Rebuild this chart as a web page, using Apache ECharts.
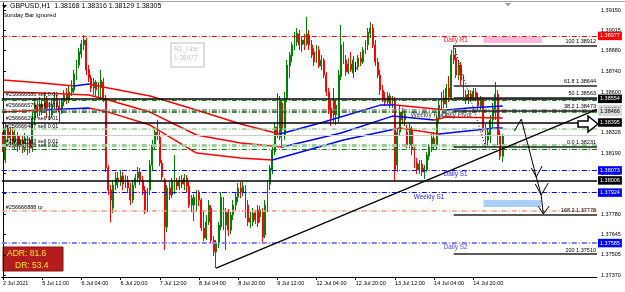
<!DOCTYPE html>
<html>
<head>
<meta charset="utf-8">
<style>
  html, body { margin: 0; padding: 0; background: #fff; }
  #chart { width: 625px; height: 292px; }
</style>
<script src="https://cdn.jsdelivr.net/npm/echarts@6/dist/echarts.min.js"></script>
</head>
<body>
<div id="chart"></div>
<script>
// GBPUSD H1, 2 Jul 20:00 -> 15 Jul 08:00 (205 bars)
const opens = [
  1.38291, 1.38143, 1.38358, 1.38291, 1.38331, 1.38264, 1.38311, 1.38244, 1.38277, 1.38223,
  1.38210, 1.38277, 1.38223, 1.38425, 1.38512, 1.38465, 1.38519, 1.38479, 1.38546, 1.38492,
  1.38445, 1.38512, 1.38559, 1.38506, 1.38465, 1.38533, 1.38580, 1.38546, 1.38600, 1.38613,
  1.38707, 1.38781, 1.38855, 1.38916, 1.38949, 1.38748, 1.38694, 1.38627, 1.38667, 1.38613,
  1.38627, 1.38667, 1.38559, 1.38089, 1.37941, 1.37820, 1.37975, 1.38022, 1.37995, 1.38035,
  1.37981, 1.38008, 1.37955, 1.37874, 1.37975, 1.38022, 1.38062, 1.38008, 1.37941, 1.37807,
  1.37941, 1.38109, 1.38244, 1.38331, 1.38297, 1.38123, 1.38008, 1.37693, 1.37955, 1.37908,
  1.37941, 1.37995, 1.37968, 1.38008, 1.37981, 1.38022, 1.37968, 1.37840, 1.37840, 1.37807,
  1.37921, 1.37874, 1.37686, 1.37619, 1.37726, 1.37820, 1.37605, 1.37525, 1.37578, 1.37693,
  1.37874, 1.37706, 1.37793, 1.37672, 1.37773, 1.37840, 1.37894, 1.37955, 1.37928, 1.37955,
  1.37840, 1.37726, 1.37726, 1.37787, 1.37807, 1.37760, 1.37793, 1.37639, 1.37807, 1.37981,
  1.38076, 1.38197, 1.38365, 1.38297, 1.38526, 1.38311, 1.38559, 1.38774, 1.38842, 1.38909,
  1.38936, 1.38990, 1.38916, 1.38949, 1.38922, 1.38983, 1.38916, 1.38869, 1.38815, 1.38882,
  1.38774, 1.38815, 1.38714, 1.38600, 1.38492, 1.38546, 1.38445, 1.38425, 1.38707, 1.38916,
  1.38815, 1.38734, 1.38788, 1.38727, 1.38761, 1.38768, 1.38828, 1.38801, 1.38882, 1.38916,
  1.38996, 1.39030, 1.38916, 1.38801, 1.38714, 1.38613, 1.38559, 1.38533, 1.38573, 1.38519,
  1.38546, 1.38109, 1.38331, 1.38465, 1.38412, 1.38331, 1.38244, 1.38344, 1.38210, 1.38123,
  1.38076, 1.38116, 1.38062, 1.38076, 1.38170, 1.38223, 1.38291, 1.38244, 1.38425, 1.38512,
  1.38559, 1.38519, 1.38627, 1.38559, 1.38848, 1.38828, 1.38714, 1.38781, 1.38680, 1.38580,
  1.38546, 1.38586, 1.38553, 1.38600, 1.38559, 1.38506, 1.38546, 1.38358, 1.38277, 1.38311,
  1.38412, 1.38479, 1.38586, 1.38311, 1.38168
];
const closes = [
  1.38223, 1.38358, 1.38291, 1.38331, 1.38264, 1.38311, 1.38244, 1.38277, 1.38223, 1.38291,
  1.38277, 1.38223, 1.38425, 1.38512, 1.38465, 1.38519, 1.38479, 1.38546, 1.38492, 1.38445,
  1.38512, 1.38559, 1.38506, 1.38465, 1.38533, 1.38580, 1.38546, 1.38600, 1.38627, 1.38721,
  1.38788, 1.38869, 1.38922, 1.38949, 1.38748, 1.38694, 1.38627, 1.38667, 1.38613, 1.38647,
  1.38680, 1.38559, 1.38089, 1.37941, 1.37874, 1.37975, 1.38022, 1.37995, 1.38035, 1.37981,
  1.38008, 1.37955, 1.37874, 1.37975, 1.38022, 1.38062, 1.38008, 1.37941, 1.37807, 1.37941,
  1.38109, 1.38244, 1.38331, 1.38311, 1.38123, 1.38029, 1.37693, 1.37955, 1.37908, 1.37995,
  1.37995, 1.37968, 1.38008, 1.37981, 1.38022, 1.37968, 1.37840, 1.37887, 1.37894, 1.37921,
  1.37874, 1.37686, 1.37619, 1.37726, 1.37840, 1.37605, 1.37525, 1.37578, 1.37706, 1.37894,
  1.37706, 1.37793, 1.37672, 1.37773, 1.37840, 1.37894, 1.37955, 1.37928, 1.37968, 1.37773,
  1.37726, 1.37753, 1.37787, 1.37740, 1.37719, 1.37807, 1.37625, 1.37840, 1.37988, 1.38089,
  1.38210, 1.38365, 1.38311, 1.38546, 1.38344, 1.38559, 1.38781, 1.38848, 1.38916, 1.38983,
  1.38996, 1.38916, 1.38949, 1.38922, 1.38990, 1.38916, 1.38848, 1.38801, 1.38882, 1.38774,
  1.38815, 1.38714, 1.38600, 1.38479, 1.38425, 1.38445, 1.38512, 1.38714, 1.38916, 1.38801,
  1.38734, 1.38788, 1.38748, 1.38815, 1.38761, 1.38828, 1.38801, 1.38882, 1.38916, 1.39003,
  1.39030, 1.38916, 1.38801, 1.38714, 1.38613, 1.38559, 1.38533, 1.38573, 1.38519, 1.38546,
  1.38076, 1.38331, 1.38465, 1.38412, 1.38452, 1.38244, 1.38358, 1.38210, 1.38109, 1.38076,
  1.38116, 1.38062, 1.38089, 1.38176, 1.38230, 1.38291, 1.38244, 1.38425, 1.38512, 1.38559,
  1.38519, 1.38627, 1.38566, 1.38848, 1.38815, 1.38714, 1.38781, 1.38680, 1.38580, 1.38546,
  1.38586, 1.38553, 1.38606, 1.38559, 1.38506, 1.38546, 1.38358, 1.38244, 1.38331, 1.38412,
  1.38492, 1.38586, 1.38311, 1.38168, 1.38305
];
const lows = [
  1.38197, 1.38123, 1.38264, 1.38244, 1.38223, 1.38210, 1.38197, 1.38210, 1.38190, 1.38197,
  1.38176, 1.38190, 1.38197, 1.38378, 1.38425, 1.38438, 1.38445, 1.38459, 1.38425, 1.38412,
  1.38425, 1.38479, 1.38465, 1.38398, 1.38452, 1.38506, 1.38519, 1.38526, 1.38573, 1.38593,
  1.38680, 1.38761, 1.38828, 1.38882, 1.38714, 1.38667, 1.38600, 1.38580, 1.38573, 1.38559,
  1.38546, 1.38533, 1.38062, 1.37908, 1.37726, 1.37787, 1.37941, 1.37955, 1.37968, 1.37941,
  1.37955, 1.37921, 1.37840, 1.37854, 1.37955, 1.37995, 1.37975, 1.37908, 1.37780, 1.37793,
  1.37908, 1.38076, 1.38210, 1.38277, 1.38102, 1.38008, 1.37538, 1.37659, 1.37874, 1.37887,
  1.37914, 1.37941, 1.37941, 1.37955, 1.37941, 1.37928, 1.37820, 1.37793, 1.37733, 1.37793,
  1.37834, 1.37666, 1.37598, 1.37605, 1.37706, 1.37585, 1.37498, 1.37417, 1.37551, 1.37672,
  1.37672, 1.37538, 1.37632, 1.37646, 1.37740, 1.37807, 1.37861, 1.37887, 1.37901, 1.37753,
  1.37699, 1.37686, 1.37699, 1.37713, 1.37693, 1.37726, 1.37585, 1.37619, 1.37793, 1.37941,
  1.38049, 1.38176, 1.38291, 1.38277, 1.38230, 1.38277, 1.38533, 1.38694, 1.38801, 1.38882,
  1.38909, 1.38882, 1.38869, 1.38882, 1.38909, 1.38882, 1.38828, 1.38774, 1.38795, 1.38761,
  1.38748, 1.38694, 1.38573, 1.38452, 1.38371, 1.38398, 1.38378, 1.38398, 1.38680, 1.38788,
  1.38707, 1.38721, 1.38734, 1.38694, 1.38734, 1.38748, 1.38774, 1.38788, 1.38855, 1.38882,
  1.38963, 1.38895, 1.38774, 1.38694, 1.38580, 1.38533, 1.38506, 1.38519, 1.38492, 1.38492,
  1.38008, 1.38062, 1.38304, 1.38385, 1.38371, 1.38223, 1.38223, 1.38176, 1.38089, 1.38049,
  1.38049, 1.38035, 1.38015, 1.38062, 1.38143, 1.38197, 1.38210, 1.38210, 1.38398, 1.38479,
  1.38492, 1.38492, 1.38533, 1.38546, 1.38788, 1.38694, 1.38680, 1.38647, 1.38559, 1.38519,
  1.38519, 1.38533, 1.38539, 1.38539, 1.38479, 1.38479, 1.38331, 1.38231, 1.38240, 1.38257,
  1.38358, 1.38412, 1.38244, 1.38143, 1.38129
];
const highs = [
  1.38331, 1.38398, 1.38378, 1.38358, 1.38365, 1.38344, 1.38331, 1.38304, 1.38311, 1.38324,
  1.38311, 1.38297, 1.38465, 1.38559, 1.38546, 1.38566, 1.38546, 1.38586, 1.38573, 1.38533,
  1.38546, 1.38600, 1.38580, 1.38546, 1.38559, 1.38613, 1.38627, 1.38647, 1.38680, 1.38748,
  1.38815, 1.38895, 1.38949, 1.38983, 1.38963, 1.38781, 1.38714, 1.38694, 1.38680, 1.38667,
  1.38748, 1.38694, 1.38580, 1.38109, 1.37975, 1.38008, 1.38062, 1.38062, 1.38076, 1.38062,
  1.38042, 1.38035, 1.37988, 1.38008, 1.38049, 1.38096, 1.38089, 1.38035, 1.37968, 1.37955,
  1.38143, 1.38277, 1.38358, 1.38412, 1.38331, 1.38143, 1.38022, 1.37975, 1.37995, 1.38022,
  1.38176, 1.38022, 1.38035, 1.38042, 1.38049, 1.38042, 1.37995, 1.37908, 1.37914, 1.37941,
  1.37941, 1.37887, 1.37807, 1.37773, 1.37874, 1.37840, 1.37632, 1.37605, 1.37726, 1.37928,
  1.37894, 1.37820, 1.37814, 1.37793, 1.37874, 1.37921, 1.37988, 1.37995, 1.37995, 1.37975,
  1.37874, 1.37793, 1.37820, 1.37807, 1.37840, 1.37834, 1.37820, 1.37874, 1.38008, 1.38109,
  1.38237, 1.38398, 1.38593, 1.38573, 1.38546, 1.38600, 1.38815, 1.38869, 1.38936, 1.39003,
  1.39030, 1.39016, 1.38976, 1.38990, 1.39104, 1.39016, 1.38949, 1.38895, 1.38916, 1.38909,
  1.38848, 1.38828, 1.38734, 1.38627, 1.38546, 1.38627, 1.38546, 1.38748, 1.39050, 1.38936,
  1.38848, 1.38828, 1.38869, 1.38842, 1.38801, 1.38848, 1.38869, 1.38902, 1.38949, 1.39030,
  1.39070, 1.39057, 1.38949, 1.38828, 1.38748, 1.38647, 1.38600, 1.38600, 1.38593, 1.38573,
  1.38566, 1.38358, 1.38506, 1.38492, 1.38479, 1.38378, 1.38385, 1.38371, 1.38237, 1.38156,
  1.38143, 1.38143, 1.38109, 1.38197, 1.38250, 1.38318, 1.38331, 1.38445, 1.38546, 1.38600,
  1.38613, 1.38654, 1.38707, 1.38882, 1.38912, 1.38895, 1.38815, 1.38801, 1.38714, 1.38613,
  1.38613, 1.38613, 1.38627, 1.38627, 1.38593, 1.38573, 1.38566, 1.38385, 1.38358, 1.38445,
  1.38526, 1.38667, 1.38613, 1.38344, 1.38316
];
const futureBars = 38;

// price scale labels on the right
const yTicks = [1.37370, 1.37505, 1.37645, 1.37780, 1.37920, 1.38055, 1.38190,
  1.38326, 1.38465, 1.38600, 1.38740, 1.38880, 1.39015, 1.39150];

// three moving averages, read at a few bars: [bar, price]
const maSlow = [[0, 1.38680], [16, 1.38660], [29, 1.38640], [35, 1.38654], [43, 1.38627],
  [60, 1.38573], [79, 1.38479], [97, 1.38385], [113, 1.38318], [131, 1.38398],
  [154, 1.38512], [160, 1.38512], [181, 1.38479], [190, 1.38492], [204, 1.38506]];
const maMid = [[0, 1.38600], [16, 1.38593], [35, 1.38580], [43, 1.38546], [60, 1.38465],
  [79, 1.38311], [97, 1.38257], [114, 1.38230], [138, 1.38324], [159, 1.38438],
  [176, 1.38412], [181, 1.38432], [204, 1.38425]];
const maFast = [[0, 1.38465], [16, 1.38479], [35, 1.38492], [43, 1.38465], [60, 1.38378],
  [79, 1.38190], [97, 1.38156], [110, 1.38143], [139, 1.38277], [162, 1.38358],
  [178, 1.38318], [201, 1.38358], [204, 1.38358]];
// bar ranges where each average is drawn blue (rising)
const slowRising = [[29, 35], [113, 160], [181, 204]];
const midRising = [[114, 176]];
const fastRising = [[16, 35], [110, 160], [178, 204]];

// horizontal levels
const pivotNames = ['Daily R1', 'Daily S1', 'Weekly S1', 'Daily S2'];
const pivotPrices = [1.38977, 1.38073, 1.37924, 1.37585];
const blackLevels = [1.38554, 1.38395, 1.38006];
const greenLevels = [1.38546, 1.38466, 1.38217];
const paleGreenLevels = [1.38351, 1.38244];
const greyLevel = 1.38484;
const silverLevel = 1.38311;
const tpLevel = 1.37800;
const orderTags = ['#256666686 sell 0.01', '#256666579 sell 0.01', '#256666290 sell 0.01',
  '#256666487 sell 0.01', '#256667303 sell 0.01', '#256667305 sell 0.01', '#256666888 tp'];
const orderTagPrices = [1.38554, 1.38484, 1.38395, 1.38395, 1.38244, 1.38217, 1.37800];

// fibonacci from the 14 Jul high to the low
const fibRatios = ['100', '61.8', '50', '38.2', '0.0', '168.2', '200'];
const fibPrices = [1.38912, 1.38644, 1.38563, 1.38473, 1.38231, 1.37778, 1.37510];
const fibHigh = [184, 1.38912];
const fibLow = [197, 1.38231];

// trend line and hand drawn arrows: [bar, price]
const trendLine = [[87, 1.37417], [242.5, 1.38483]];
const arrowStrokes = [
  [[208.8, 1.38338], [211.6, 1.38418], [217.7, 1.38029], [219.7, 1.37908], [220.6, 1.37780]],
  [[215.7, 1.38089], [217.7, 1.38029], [220.1, 1.38102]],
  [[217.3, 1.37982], [219.7, 1.37908], [222.6, 1.37988]],
  [[218.5, 1.37834], [220.6, 1.37780], [223.0, 1.37834]]
];
const pinkZone = [[196.2, 1.38969], [220.1, 1.38929]];
const blueZone = [[196.2, 1.37874], [219.7, 1.37827]];
const levelTexts = ['Daily R1', 'Daily S1', 'Weekly S1', 'Daily S2', 'Weekly Pivot', 'Daily Pivot'];
const levelTextAt = [[179.9, 1.38949], [179.9, 1.38049], [167.7, 1.37894], [179.9, 1.37558],
  [166.5, 1.38445], [179.1, 1.38445]];

// ---------------------------------------------------------------
const FONT = '"Liberation Sans", Arial, sans-serif';
const DASHDOT = [5, 2, 1, 2];
const CLEAR = 'rgba(0,0,0,0)';

const categories = [];
for (let t = Date.UTC(2021, 6, 2, 20); categories.length < opens.length; t += 3600e3) {
  const d = new Date(t);
  const wd = d.getUTCDay();
  if (wd === 0 || wd === 6) continue;
  categories.push(d.getUTCDate() + ' Jul ' + String(d.getUTCHours()).padStart(2, '0') + ':00');
}
for (let i = 0; i < futureBars; i++) categories.push('');

const candles = opens.map((o, i) => [o, closes[i], lows[i], highs[i]]);
const showDate = (i, v) => i % 16 === 0 && v !== '';

function axisTag(p, bg, fg) {
  return {
    show: true, position: 'end', distance: 1, formatter: p.toFixed(5),
    backgroundColor: bg, color: fg, fontSize: 5.5, fontFamily: FONT, padding: [1.5, 2, 1, 2]
  };
}
function hLine(p, color, width, type, label) {
  return { yAxis: p, lineStyle: { color: color, width: width, type: type }, label: label || { show: false } };
}

const levels = [];
levels.push(hLine(pivotPrices[0], '#ff0000', 1, DASHDOT, axisTag(pivotPrices[0], '#ff0000', '#fff')));
levels.push(hLine(pivotPrices[1], '#0000ff', 1, DASHDOT, axisTag(pivotPrices[1], '#0000ff', '#fff')));
levels.push(hLine(pivotPrices[2], '#0000ff', 1, DASHDOT, axisTag(pivotPrices[2], '#0000ff', '#fff')));
levels.push(hLine(pivotPrices[3], '#8080ff', 2, DASHDOT, axisTag(pivotPrices[3], '#0000ff', '#fff')));
greenLevels.forEach((p, i) => levels.push(hLine(p, i === 1 ? '#006400' : '#008000', i === 1 ? 1.5 : 1, DASHDOT)));
paleGreenLevels.forEach((p, i) => levels.push(hLine(p, '#9acd9a', i === 1 ? 3 : 1.5, DASHDOT)));
levels.push(hLine(greyLevel, '#808080', 1.5, DASHDOT, axisTag(greyLevel, '#d8d8d8', '#000')));
levels.push(hLine(silverLevel, '#cccccc', 1, 'solid'));
levels.push(hLine(tpLevel, '#f4a080', 1.5, DASHDOT));
levels.push(hLine(greenLevels[1], CLEAR, 1, 'solid', axisTag(greenLevels[1], '#d8d8d8', '#000')));
blackLevels.forEach(p => levels.push(hLine(p, '#000', 1.5, 'solid', axisTag(p, '#000', '#fff'))));
orderTags.forEach((txt, i) => levels.push(hLine(orderTagPrices[i], CLEAR, 1, 'solid', {
  show: true, position: i === 3 ? 'insideStartBottom' : 'insideStartTop', distance: [4, 1],
  formatter: txt, color: '#000', fontSize: 5.5, fontFamily: FONT
})));

const drawings = [];
fibPrices.forEach((p, i) => drawings.push([
  {
    coord: [fibHigh[0], p], lineStyle: { color: '#222', width: 1.5, type: 'solid' },
    label: {
      show: true, position: 'insideEndTop', distance: [1, 1], formatter: fibRatios[i] + ' ' + p.toFixed(5),
      color: '#000', fontSize: 5.5, fontFamily: FONT
    }
  },
  { coord: [242.5, p] }
]));
drawings.push([{ coord: fibHigh, lineStyle: { color: '#000', width: 1, type: [1, 2] } }, { coord: fibLow }]);
drawings.push([{ coord: trendLine[0], lineStyle: { color: '#000', width: 1.3, type: 'solid' } }, { coord: trendLine[1] }]);
arrowStrokes.forEach(stroke => {
  for (let k = 0; k < stroke.length - 1; k++) {
    drawings.push([{ coord: stroke[k], lineStyle: { color: '#000', width: 1, type: 'solid' } }, { coord: stroke[k + 1] }]);
  }
});

const textColors = ['#ff2020', '#2a2aff', '#2a2aff', '#4a4aff', '#404040', '#404040'];

function maColors(seriesIndex, ranges) {
  return {
    type: 'piecewise', show: false, seriesIndex: seriesIndex, dimension: 0,
    pieces: ranges.map(r => ({ gte: r[0], lte: r[1], color: '#0000ff' })),
    outOfRange: { color: '#ff0000' }
  };
}
function maSeries(name, data) {
  return {
    name: name, type: 'line', xAxisIndex: 1, data: data, symbol: 'none', silent: true,
    lineStyle: { width: 1.5 }, z: 4
  };
}

const chart = echarts.init(document.getElementById('chart'));
chart.setOption({
  animation: false,
  backgroundColor: '#fff',
  grid: { left: -1, right: 28, top: 3, bottom: 15 },
  xAxis: [
    {
      type: 'category', data: categories, boundaryGap: true,
      axisLine: { show: true, onZero: false, lineStyle: { color: '#000', width: 1 } },
      axisTick: { show: true, alignWithLabel: true, interval: showDate, length: 3, lineStyle: { color: '#000' } },
      axisLabel: {
        interval: showDate, align: 'left', margin: 3, fontSize: 5.5, color: '#000', fontFamily: FONT,
        formatter: (v, i) => i === 0 ? v.split(' ').slice(0, 2).join(' ') + ' 2021' : v
      },
      splitLine: { show: false }
    },
    { type: 'value', min: -0.5, max: 242.5, show: false }
  ],
  yAxis: {
    type: 'value', position: 'right', min: 1.37357, max: 1.39198,
    axisLine: { show: true, lineStyle: { color: '#000' } },
    axisTick: { show: true, customValues: yTicks, length: 3, lineStyle: { color: '#000' } },
    axisLabel: { customValues: yTicks, formatter: v => v.toFixed(5), fontSize: 5.5, margin: 4, color: '#000', fontFamily: FONT },
    splitLine: { show: false }
  },
  visualMap: [maColors(1, slowRising), maColors(2, midRising), maColors(3, fastRising)],
  series: [
    {
      name: 'GBPUSD', type: 'candlestick', data: candles, barWidth: 1.4,
      itemStyle: {
        color: '#008000', color0: '#ff0000', borderColor: '#008000', borderColor0: '#ff0000',
        borderColorDoji: '#000', borderWidth: 1
      },
      markLine: { silent: true, precision: 5, symbol: ['none', 'none'], animation: false, data: levels },
      z: 3
    },
    maSeries('MA slow', maSlow),
    maSeries('MA mid', maMid),
    maSeries('MA fast', maFast),
    {
      name: 'objects', type: 'line', xAxisIndex: 1, data: [[-10, 1.38]], symbol: 'none', silent: true,
      lineStyle: { opacity: 0 },
      markLine: { silent: true, precision: 5, symbol: ['none', 'none'], animation: false, data: drawings },
      markArea: {
        silent: true,
        data: [
          [{ coord: pinkZone[0], itemStyle: { color: '#ffb8dc', opacity: 1 } }, { coord: pinkZone[1] }],
          [{ coord: blueZone[0], itemStyle: { color: '#a8d0f4', opacity: 1 } }, { coord: blueZone[1] }]
        ]
      },
      markPoint: {
        silent: true, symbol: 'circle', symbolSize: 0,
        label: { show: true, position: 'right', distance: 0, fontSize: 6.4, fontFamily: FONT, formatter: p => p.name },
        data: levelTexts.map((t, i) => ({ name: t, coord: levelTextAt[i], label: { color: textColors[i] } }))
      },
      z: 5
    }
  ],
  graphic: [
    { type: 'line', silent: true, shape: { x1: 0, y1: 1.5, x2: 625, y2: 1.5 }, style: { stroke: '#a0a0a0', lineWidth: 1 } },
    { type: 'polygon', silent: true, shape: { points: [[2, 5], [7, 5], [4.5, 8]] }, style: { fill: '#000' } },
    { type: 'text', silent: true, x: 10, y: 3, style: { text: 'GBPUSD,H1  1.38168 1.38316 1.38129 1.38305', font: '7px ' + FONT, fill: '#000', verticalAlign: 'top' } },
    { type: 'text', silent: true, x: 3, y: 12.5, style: { text: 'Sunday Bar ignored', font: '6px ' + FONT, fill: '#000', verticalAlign: 'top' } },
    { type: 'polygon', silent: true, shape: { points: [[505, 3], [511, 3], [508, 6.5]] }, style: { fill: '#a0a0a0' } },
    { type: 'rect', silent: true, shape: { x: 171, y: 43, width: 33, height: 24 }, style: { fill: '#fff', stroke: '#d4d4d4', lineWidth: 1.5 } },
    { type: 'text', silent: true, x: 174, y: 46, style: { text: 'R1_Line', font: '6.5px ' + FONT, fill: '#c4c4c4', verticalAlign: 'top' } },
    { type: 'text', silent: true, x: 174, y: 55, style: { text: '1.38977', font: '6.5px ' + FONT, fill: '#c4c4c4', verticalAlign: 'top' } },
    { type: 'rect', silent: true, shape: { x: 3, y: 247, width: 60, height: 24 }, style: { fill: '#b31c1c', stroke: '#8a1010', lineWidth: 1 } },
    { type: 'text', silent: true, x: 7, y: 249.5, style: { text: 'ADR: 81.6', font: '8.5px ' + FONT, fill: '#ffe22e', verticalAlign: 'top' } },
    { type: 'text', silent: true, x: 15, y: 261, style: { text: 'DR: 53.4', font: '8.5px ' + FONT, fill: '#ffe22e', verticalAlign: 'top' } },
    {
      type: 'polygon', silent: true, z: 100,
      shape: { points: [[578, 121], [588, 121], [588, 116], [598, 124], [588, 132], [588, 127], [578, 127]] },
      style: { fill: '#fff', stroke: '#000', lineWidth: 1.5 }
    }
  ]
});
</script>
</body>
</html>
